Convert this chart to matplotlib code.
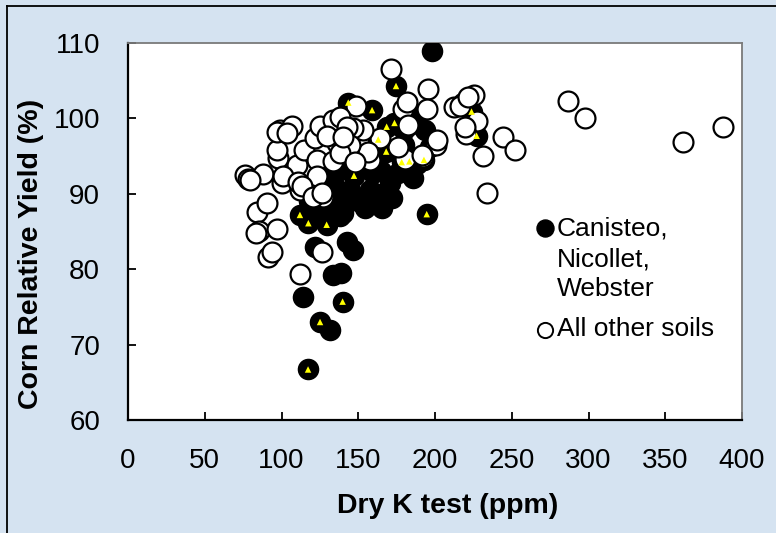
import matplotlib
matplotlib.use("Agg")
import matplotlib.pyplot as plt
from matplotlib.lines import Line2D

plt.rcParams['font.family'] = ['Liberation Sans', 'DejaVu Sans']

# ---- data ----
cnw_k = [198, 174.6, 143.5, 159, 168.5, 173.6, 163, 168.2, 178.3, 183.3, 192.8, 147.2,
         223.8, 227.1, 194.6, 112, 117.5, 129.4, 121.8, 142.8, 146.8, 114.2, 139.8, 125.1,
         131.6, 117.3, 133.7, 138.5, 154.4, 165.3, 140.3, 168.5, 157.7, 144.6, 170.7, 122.9,
         133.7, 138.1, 140.3, 134.9, 185.7, 159.8, 188, 196.7, 193.5, 180, 188, 150, 155,
         128, 131.6, 162, 176, 150, 172, 160, 143, 165, 137, 118, 180]
cnw_y = [108.9, 104.3, 102.1, 101.1, 98.9, 99.4, 97.2, 95.6, 94.2, 94.3, 94.5, 92.4,
         100.9, 97.7, 87.3, 87.2, 86.1, 85.9, 83.0, 83.6, 82.5, 76.3, 75.7, 73.0,
         71.9, 66.7, 79.2, 79.5, 88.1, 88.1, 87.4, 90.1, 90.5, 90.5, 91.4, 87.9,
         88.3, 87.0, 89.2, 90.9, 92.1, 92.7, 94.0, 96.2, 98.5, 98.5, 100.0, 93.5, 95.0,
         91.5, 92.5, 90.0, 92.8, 89.0, 89.5, 94.5, 95.0, 93.0, 93.0, 89.0, 96.5]

other_k = [171.3, 195.6, 195, 212.4, 218.5, 225.6, 227.6, 220.4, 244.5, 252.1, 231.5, 233.7,
           286.9, 297.5, 361.8, 387.8, 200.4, 192.4, 180.5, 176, 183.3, 179, 181.5, 164.2,
           157.6, 156.5, 152.9, 148.5, 146.4, 76.2, 78.4, 87.7, 99, 106.6, 97.9, 96.9,
           100.1, 109.9, 112, 114.7, 121.8, 125.1, 122.9, 122.5, 133.7, 135.9, 133.7, 127.2,
           83.8, 90.3, 85.5, 96.9, 83.4, 91.4, 93.6, 112, 126.2, 96.9, 103.4, 129.4,
           79.5, 101.2, 110.9, 122.9, 113.1, 120.7, 126.2, 138.1, 142.5, 144.6, 138.1, 191.3,
           201, 216.3, 221.7, 219.5, 182.6, 148, 140]
other_y = [106.6, 103.9, 101.2, 101.5, 102.1, 103.1, 99.7, 97.9, 97.5, 95.8, 95.0, 90.1,
           102.3, 100.1, 96.9, 98.9, 96.5, 94.9, 94.6, 96.2, 99.1, 101.2, 102.2, 97.4,
           94.5, 95.6, 98.5, 101.6, 98.7, 92.5, 91.9, 92.6, 98.5, 99.0, 94.7, 95.8,
           91.4, 93.8, 90.5, 95.8, 97.4, 99.0, 94.5, 91.3, 99.8, 96.7, 94.3, 89.6,
           87.6, 88.8, 85.0, 85.3, 84.8, 81.6, 82.3, 79.4, 82.3, 98.2, 98.0, 97.6,
           91.8, 92.3, 91.6, 92.3, 91.0, 89.6, 90.1, 100.2, 98.9, 96.5, 95.4, 95.1,
           97.1, 101.6, 102.9, 98.9, 99.1, 94.2, 97.5]

flag_k = [174.6, 143.5, 159, 168.5, 173.6, 163, 168.2, 178.3, 183.3, 192.8, 147.2,
          223.8, 227.1, 194.6, 112, 117.5, 129.4, 139.8, 125.1, 117.3]
flag_y = [104.3, 102.1, 101.1, 98.9, 99.4, 97.2, 95.6, 94.2, 94.3, 94.5, 92.4,
          100.9, 97.7, 87.3, 87.2, 86.1, 85.9, 75.7, 73.0, 66.7]

x_ticks = [0, 50, 100, 150, 200, 250, 300, 350, 400]
y_ticks = [60, 70, 80, 90, 100, 110]
legend_cnw = ["Canisteo,", "Nicollet,", "Webster"]
legend_other = "All other soils"

# ---- figure ----
W, H = 776, 533
fig = plt.figure(figsize=(W / 100, H / 100), dpi=100)
fig.patch.set_facecolor('#d5e3f1')

# outer frame (only top & left edges are visible in the picture)
fig.add_artist(Line2D([7 / W, 7 / W], [0, 1 - 6 / H], color='black', lw=1.3,
                      transform=fig.transFigure))
fig.add_artist(Line2D([7 / W, 1], [1 - 6 / H, 1 - 6 / H], color='black', lw=1.3,
                      transform=fig.transFigure))

ax_l, ax_r, ax_t, ax_b = 128, 742, 43, 420
ax = fig.add_axes([ax_l / W, 1 - ax_b / H, (ax_r - ax_l) / W, (ax_b - ax_t) / H])
ax.set_facecolor('white')

ms = 205
ax.scatter(cnw_k, cnw_y, s=ms, facecolor='black', edgecolor='black', lw=1.2, zorder=3)
ax.scatter(other_k, other_y, s=ms, facecolor='white', edgecolor='black', lw=1.6, zorder=4)
ax.scatter(flag_k, flag_y, s=22, marker='^', facecolor='#ffff00', edgecolor='none', zorder=5)

ax.set_xlim(0, 400)
ax.set_ylim(60, 110)
ax.set_xticks(x_ticks)
ax.set_yticks(y_ticks)
ax.tick_params(direction='in', length=6, width=1.3, labelsize=20, pad=20, colors='black')

for s in ['left', 'bottom']:
    ax.spines[s].set_linewidth(1.6)
    ax.spines[s].set_color('black')
for s in ['top', 'right']:
    ax.spines[s].set_linewidth(1.3)
    ax.spines[s].set_color('#7a7a7a')

ax.set_xlabel('Dry K test (ppm)', fontsize=20.5, fontweight='bold')
ax.set_ylabel('Corn Relative Yield (%)', fontsize=20.5, fontweight='bold')
aw, ah = ax_r - ax_l, ax_b - ax_t
ax.xaxis.set_label_coords((448 - ax_l) / aw, (ax_b - 493) / ah)
ax.yaxis.set_label_coords((44 - ax_l) / aw, (ax_b - 254) / ah)

# legend drawn by hand to keep the three-line label layout
def ax_xy(px, py):
    return (px - ax_l) / aw, (ax_b - py) / ah

mx, my = ax_xy(545, 228)
ax.scatter([mx], [my], s=150, facecolor='black', edgecolor='black', lw=1.0,
           transform=ax.transAxes, zorder=6, clip_on=False)
mx, my = ax_xy(545, 330)
ax.scatter([mx], [my], s=120, facecolor='white', edgecolor='black', lw=1.4,
           transform=ax.transAxes, zorder=6, clip_on=False)
for txt, py in zip(legend_cnw, [228, 259, 289]):
    tx, ty = ax_xy(557, py)
    ax.text(tx, ty, txt, transform=ax.transAxes, fontsize=19, va='center', ha='left', zorder=6)
tx, ty = ax_xy(557, 329)
ax.text(tx, ty, legend_other, transform=ax.transAxes, fontsize=19, va='center', ha='left', zorder=6)

fig.savefig('out.png', dpi=100, facecolor=fig.get_facecolor())
